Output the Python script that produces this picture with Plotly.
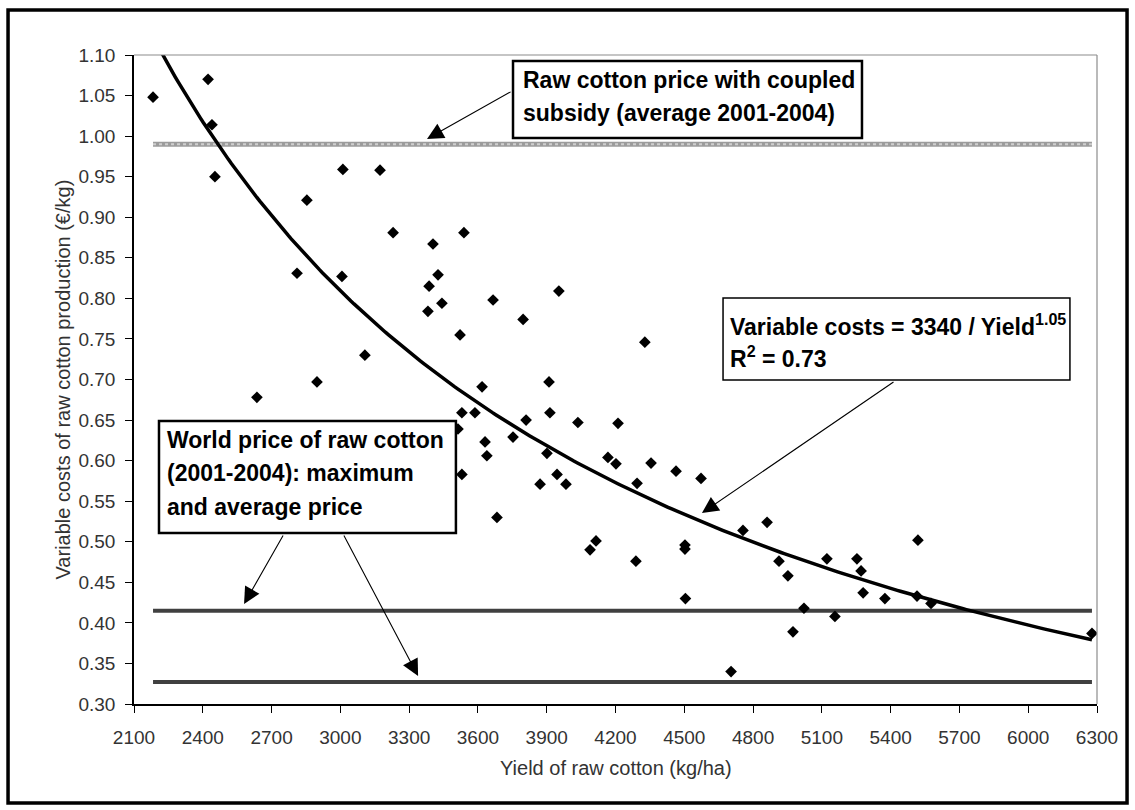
import numpy as np
import plotly.graph_objects as go

# ---------------- data ----------------
yield_kg_ha = [2183, 2423, 2440, 2453, 2636, 2811, 2854, 2898, 3011, 3007,
               3107, 3173, 3230, 3382, 3387, 3404, 3426, 3443, 3522, 3539,
               3513, 3530, 3530, 3587, 3618, 3631, 3639, 3666, 3683, 3753,
               3797, 3810, 3871, 3901, 3910, 3914, 3945, 3953, 3984, 4036,
               4089, 4115, 4167, 4202, 4211, 4289, 4294, 4328, 4355, 4464,
               4503, 4503, 4505, 4573, 4704, 4756, 4861, 4913, 4952, 4974,
               5022, 5122, 5157, 5253, 5271, 5280, 5375, 5519, 5515, 5576,
               6278]
cost_eur_kg = [1.048, 1.070, 1.014, 0.950, 0.678, 0.831, 0.921, 0.697, 0.959, 0.827,
               0.730, 0.958, 0.881, 0.784, 0.815, 0.867, 0.829, 0.794, 0.755, 0.881,
               0.639, 0.659, 0.583, 0.659, 0.691, 0.623, 0.606, 0.798, 0.530, 0.629,
               0.774, 0.650, 0.571, 0.609, 0.697, 0.659, 0.583, 0.809, 0.571, 0.647,
               0.490, 0.501, 0.604, 0.596, 0.646, 0.476, 0.572, 0.746, 0.597, 0.587,
               0.496, 0.491, 0.430, 0.578, 0.340, 0.514, 0.524, 0.476, 0.458, 0.389,
               0.418, 0.479, 0.408, 0.479, 0.464, 0.437, 0.430, 0.502, 0.433, 0.424,
               0.387]

subsidy_price = 0.99      # raw cotton price with coupled subsidy
world_max_price = 0.415   # world price maximum
world_avg_price = 0.327   # world price average

trend_a = 3014            # power trendline as drawn in the picture
trend_b = 1.027

x_range = [2100, 6300]
y_range = [0.30, 1.10]
x_ticks = list(range(2100, 6301, 300))
y_ticks = [round(0.30 + 0.05 * i, 2) for i in range(17)]

# ---------------- figure ----------------
FONT = "Liberation Sans, Arial, sans-serif"
fig = go.Figure()

x_min, x_max = min(yield_kg_ha), max(yield_kg_ha)

# textured grey subsidy line
fig.add_trace(go.Scatter(x=[x_min, x_max], y=[subsidy_price] * 2, mode="lines",
                         line=dict(color="#9c9c9c", width=5), hoverinfo="skip"))
fig.add_trace(go.Scatter(x=[x_min, x_max], y=[subsidy_price] * 2, mode="lines",
                         line=dict(color="#cfcfcf", width=2, dash="dot"),
                         hoverinfo="skip"))
fig.add_trace(go.Scatter(x=[x_min, x_max], y=[world_max_price] * 2, mode="lines",
                         line=dict(color="#404040", width=4), hoverinfo="skip"))
fig.add_trace(go.Scatter(x=[x_min, x_max], y=[world_avg_price] * 2, mode="lines",
                         line=dict(color="#404040", width=4), hoverinfo="skip"))

xs = np.linspace(x_min, x_max, 300)
fig.add_trace(go.Scatter(x=xs, y=trend_a * xs ** (-trend_b), mode="lines",
                         line=dict(color="black", width=3.5), hoverinfo="skip"))

fig.add_trace(go.Scatter(x=yield_kg_ha, y=cost_eur_kg, mode="markers",
                         marker=dict(symbol="diamond", size=9, color="black"),
                         cliponaxis=True))

# text boxes (white filled rectangles)
boxes = [
    dict(x0=3753, x1=5275, y0=0.9977, y1=1.0926, w=2.5),
    dict(x0=4669, x1=6182, y0=0.6994, y1=0.8005, w=1.5),
    dict(x0=2209, x1=3504, y0=0.5108, y1=0.6488, w=2.5),
]
for b in boxes:
    fig.add_shape(type="rect", xref="x", yref="y", x0=b["x0"], x1=b["x1"],
                  y0=b["y0"], y1=b["y1"], fillcolor="white",
                  line=dict(color="black", width=b["w"]), layer="above")

text_lines = [
    (3788, 1.0692, "Raw cotton price with coupled"),
    (3788, 1.0285, "subsidy (average 2001-2004)"),
    (4691, 0.7672, "Variable costs = 3340 / Yield<sup>1.05</sup>"),
    (4691, 0.7277, "R<sup>2</sup> = 0.73"),
    (2235, 0.6254, "World price of raw cotton"),
    (2235, 0.5847, "(2001-2004): maximum"),
    (2235, 0.5428, "and average price"),
]
for x, y, t in text_lines:
    fig.add_annotation(x=x, y=y, xref="x", yref="y", text="<b>" + t + "</b>",
                       showarrow=False, xanchor="left", yanchor="middle",
                       font=dict(family=FONT, size=23, color="black"))

arrows = [
    ((3749, 1.0556), (3378, 0.9965)),
    ((5419, 0.6981), (4577, 0.5354)),
    ((2754, 0.5095), (2580, 0.4233)),
    ((3012, 0.5095), (3339, 0.3345)),
]
for (tx, ty), (hx, hy) in arrows:
    fig.add_annotation(x=hx, y=hy, ax=tx, ay=ty, xref="x", yref="y",
                       axref="x", ayref="y", text="", showarrow=True,
                       arrowhead=2, arrowsize=3.0, arrowwidth=1.1,
                       arrowcolor="black", standoff=0, startstandoff=0)

# grey top/right plot border
fig.add_shape(type="line", xref="paper", yref="paper", x0=0, x1=1, y0=1, y1=1,
              line=dict(color="#8c8c8c", width=1.2))
fig.add_shape(type="line", xref="paper", yref="paper", x0=1, x1=1, y0=0, y1=1,
              line=dict(color="#8c8c8c", width=1.2))
# outer black frame
fig.add_shape(type="rect", xref="paper", yref="paper",
              x0=-0.1308, x1=1.0312, y0=-0.1525, y1=1.0693,
              line=dict(color="black", width=3.5), fillcolor="rgba(0,0,0,0)")

# axis titles
fig.add_annotation(xref="paper", yref="paper", x=0, y=0.5, xshift=-72,
                   text="Variable costs of raw cotton production (€/kg)",
                   textangle=-90, showarrow=False, xanchor="center", yanchor="middle",
                   font=dict(family=FONT, size=20, color="#333333"))
fig.add_annotation(xref="paper", yref="paper", x=0.5, y=0, yshift=-64,
                   text="Yield of raw cotton (kg/ha)",
                   showarrow=False, xanchor="center", yanchor="middle",
                   font=dict(family=FONT, size=20, color="#333333"))

fig.update_layout(
    width=1135, height=810,
    margin=dict(l=134, r=38, t=55, b=106),
    paper_bgcolor="white", plot_bgcolor="white",
    showlegend=False,
    font=dict(family=FONT, size=19, color="#333333"),
    xaxis=dict(range=x_range, tickvals=x_ticks, ticktext=[str(v) for v in x_ticks],
               showgrid=False, zeroline=False, showline=True, linecolor="black",
               linewidth=1.5, ticks="outside", ticklen=7, tickcolor="black",
               tickwidth=1.2, ticklabelstandoff=8),
    yaxis=dict(range=y_range, tickvals=y_ticks, ticktext=[f"{v:.2f}" for v in y_ticks],
               showgrid=False, zeroline=False, showline=True, linecolor="black",
               linewidth=1.5, ticks="outside", ticklen=7, tickcolor="black",
               tickwidth=1.2, ticklabelstandoff=6),
)

fig.write_html("out.html", config={"displayModeBar": False},
               post_script="document.body.style.margin='0';")
